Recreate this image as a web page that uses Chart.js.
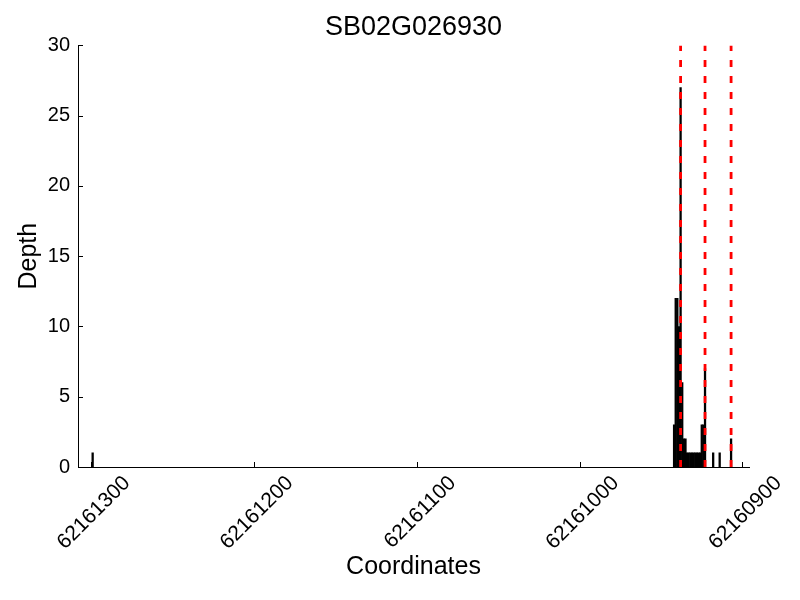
<!DOCTYPE html>
<html>
<head>
    <meta charset="utf-8" />
    <title>SB02G026930</title>
    <script src="https://cdn.jsdelivr.net/npm/chart.js"></script>
    <style>
        body { margin: 0; background: #fff; }
        #wrap { width: 800px; height: 600px; }
    </style>
</head>
<body>
    <div id="wrap">
        <canvas id="myChart" width="800" height="600"></canvas>
    </div>

    <script>
        // coordinates (bp) and read depth at each
        const coords = [62161299, 62160942, 62160941, 62160940, 62160939, 62160938, 62160937,
            62160936, 62160935, 62160934, 62160933, 62160932, 62160931, 62160930, 62160929,
            62160928, 62160927, 62160926, 62160925, 62160924, 62160923, 62160918, 62160914, 62160907];
        const depth = [1, 3, 12, 12, 10, 27, 6,
            2, 2, 1, 1, 1, 1, 1, 1,
            1, 1, 1, 3, 3, 7, 1, 1, 2];

        // red dashed markers
        const markers = [62160938, 62160923, 62160907];

        const xTicks = [62161300, 62161200, 62161100, 62161000, 62160900];
        const yTicks = [0, 5, 10, 15, 20, 25, 30];
        const xMin = 62160896, xMax = 62161308;
        const yMin = 0, yMax = 30;

        const font = "'Liberation Sans', Arial, sans-serif";

        const barData = coords.map((c, i) => ({ x: c, y: depth[i] }));
        const markerSets = markers.map(m => ({
            type: 'line',
            data: [{ x: m, y: yMin }, { x: m, y: yMax }],
            borderColor: 'rgb(255, 0, 0)',
            borderWidth: 2.8,
            borderDash: [7, 9],
            pointRadius: 0,
            order: 0
        }));

        // small inward tick marks like the original plot
        const innerTicks = {
            id: 'innerTicks',
            afterDraw(chart) {
                const ctx = chart.ctx;
                const xs = chart.scales.x, ys = chart.scales.y;
                const area = chart.chartArea;
                ctx.save();
                ctx.strokeStyle = '#000';
                ctx.lineWidth = 1;
                ctx.beginPath();
                xTicks.forEach(v => {
                    const px = Math.round(xs.getPixelForValue(v)) + 0.5;
                    ctx.moveTo(px, area.bottom);
                    ctx.lineTo(px, area.bottom - 5);
                });
                yTicks.forEach(v => {
                    const py = Math.round(ys.getPixelForValue(v)) + 0.5;
                    ctx.moveTo(area.left, py);
                    ctx.lineTo(area.left + 5, py);
                });
                ctx.stroke();
                ctx.restore();
            }
        };

        const config = {
            type: 'bar',
            data: {
                datasets: [{
                    label: 'Depth',
                    data: barData,
                    backgroundColor: '#000',
                    borderWidth: 0,
                    barPercentage: 1.0,
                    categoryPercentage: 1.0,
                    order: 1
                }].concat(markerSets)
            },
            options: {
                responsive: false,
                animation: false,
                layout: { padding: { left: 0, right: 51, top: 0, bottom: 0 } },
                plugins: {
                    legend: { display: false },
                    tooltip: { enabled: false },
                    title: {
                        display: true,
                        text: 'SB02G026930',
                        fullSize: false,
                        color: '#000',
                        font: { family: font, size: 27, weight: 'normal' },
                        padding: { top: 11, bottom: 2 }
                    }
                },
                scales: {
                    x: {
                        type: 'linear',
                        reverse: true,
                        min: xMin,
                        max: xMax,
                        offset: false,
                        grid: { display: false },
                        border: { display: true, color: '#000', width: 1 },
                        afterBuildTicks: axis => { axis.ticks = xTicks.map(v => ({ value: v })); },
                        afterFit: axis => {
                            axis.height = 133;
                            axis.paddingLeft = 0;
                            axis.paddingRight = 0;
                        },
                        ticks: {
                            autoSkip: false,
                            maxRotation: 45,
                            minRotation: 45,
                            labelOffset: 36,
                            padding: -4,
                            color: '#000',
                            font: { family: font, size: 21 },
                            callback: v => String(v)
                        },
                        title: {
                            display: true,
                            text: 'Coordinates',
                            color: '#000',
                            font: { family: font, size: 25 },
                            padding: { top: 4, bottom: 18 }
                        }
                    },
                    y: {
                        min: yMin,
                        max: yMax,
                        grid: { display: false },
                        border: { display: true, color: '#000', width: 1 },
                        afterBuildTicks: axis => { axis.ticks = yTicks.map(v => ({ value: v })); },
                        afterFit: axis => {
                            axis.width = 78;
                            axis.paddingTop = 0;
                            axis.paddingBottom = 0;
                        },
                        ticks: {
                            padding: 0,
                            color: '#000',
                            font: { family: font, size: 20 }
                        },
                        title: {
                            display: true,
                            text: 'Depth',
                            color: '#000',
                            font: { family: font, size: 25 },
                            padding: { top: 14, bottom: 0 }
                        }
                    }
                }
            },
            plugins: [innerTicks]
        };

        var myChart = new Chart(document.getElementById('myChart'), config);
    </script>
</body>
</html>
